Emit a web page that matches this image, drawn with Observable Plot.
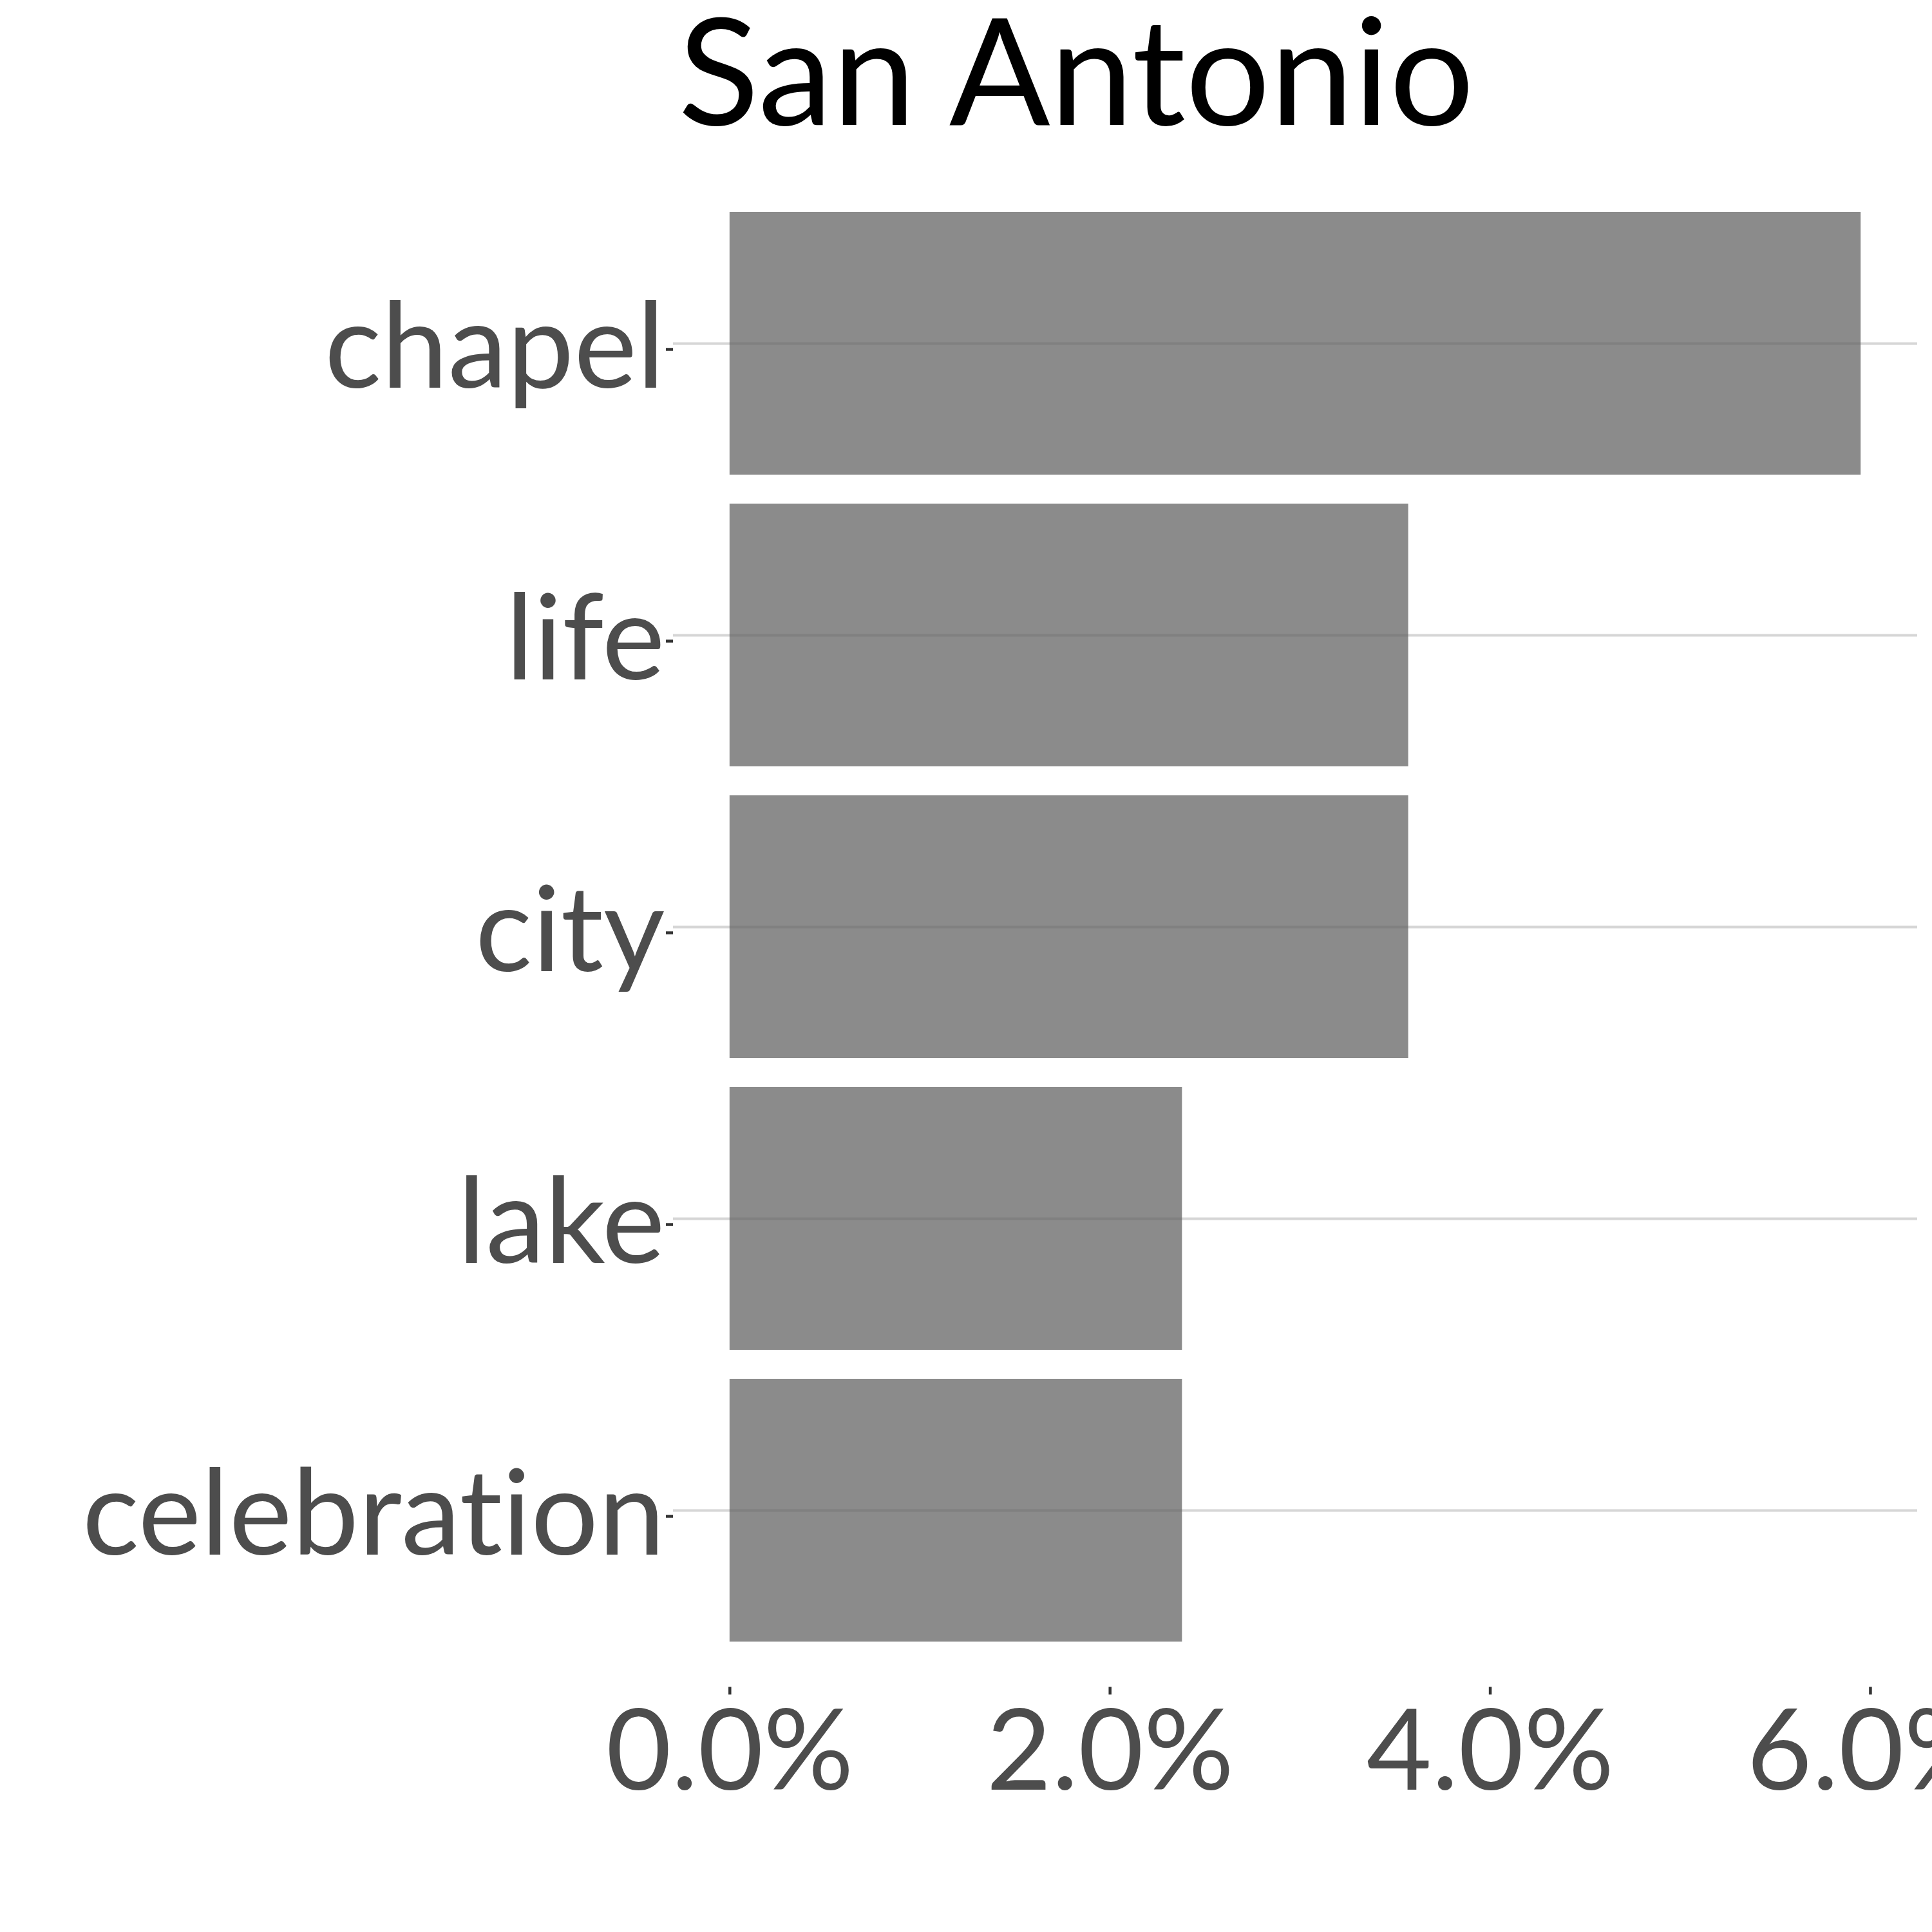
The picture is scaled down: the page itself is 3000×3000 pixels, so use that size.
<!DOCTYPE html>
<html><head><meta charset="utf-8">
<script src="https://cdn.jsdelivr.net/npm/d3@7"></script>
<script src="https://cdn.jsdelivr.net/npm/@observablehq/plot@0.6"></script>
<style>
html,body{margin:0;padding:0;background:#fff;overflow:hidden;width:3000px;height:3000px}
#title{height:250px;width:3000px;position:relative;font-family:Lato,sans-serif;color:#000}
#title span{position:absolute;left:1671px;top:0px;transform:translateX(-50%);font-size:232px;line-height:0.9;white-space:nowrap}
#chart svg{display:block}
#chart text{font-variant-ligatures:none;font-feature-settings:"liga" 0}
</style></head>
<body>
<div id="title"><span id="t"></span></div>
<div id="chart"></div>
<script>
const chartTitle = "San Antonio";
const words = ["chapel", "life", "city", "lake", "celebration"];
const shares = [0.0595, 0.0357, 0.0357, 0.0238, 0.0238];
const xTicks = [0, 0.02, 0.04, 0.06];

document.getElementById("t").textContent = chartTitle;
const data = words.map((w, i) => ({word: w, share: shares[i]}));
const maxV = d3.max(shares);
const pad = maxV * 0.05;

const chart = Plot.plot({
  width: 3000,
  height: 2750,
  marginTop: 9.4,
  marginBottom: 380.7,
  marginLeft: 1045,
  marginRight: 23,
  style: {fontFamily: "Lato, sans-serif", background: "#fff", overflow: "hidden"},
  x: {domain: [-pad, maxV + pad]},
  y: {domain: words, paddingInner: 0.1, paddingOuter: 0.15},
  marks: [
    Plot.barX(data, {y: "word", x1: 0, x2: "share", fill: "#8b8b8b"}),
    Plot.gridY(words, {stroke: "#616161", strokeOpacity: 0.26, strokeWidth: 4}),
    Plot.axisY({tickSize: 11, tickPadding: 2, stroke: "#333", strokeWidth: 4.5, fill: "#4d4d4d", fontSize: 185, dy: 9, label: null}),
    Plot.axisX({ticks: xTicks, tickFormat: d3.format(".1%"), tickSize: 12, tickPadding: 23, stroke: "#333", strokeWidth: 4.5, fill: "#4d4d4d", fontSize: 175, label: null})
  ]
});
document.getElementById("chart").appendChild(chart);
</script>
</body></html>
